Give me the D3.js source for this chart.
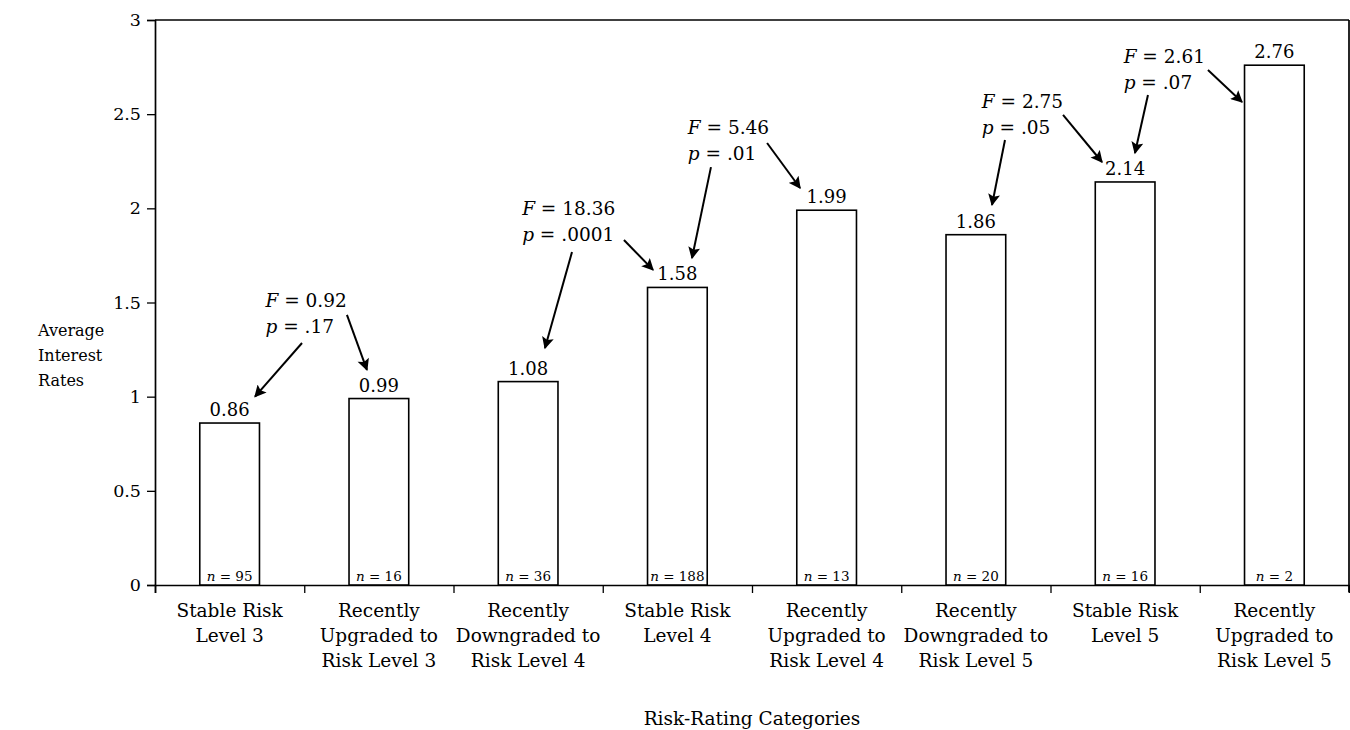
<!DOCTYPE html>
<html>
<head>
<meta charset="utf-8">
<script src="https://cdn.jsdelivr.net/npm/d3@7"></script>
<style>
  body { margin: 0; background: #fff; }
  text { font-family: "DejaVu Serif", "Liberation Serif", serif; fill: #000; }
</style>
</head>
<body>
<div id="chart"></div>
<script>
var categories = [
  ["Stable Risk", "Level 3"],
  ["Recently", "Upgraded to", "Risk Level 3"],
  ["Recently", "Downgraded to", "Risk Level 4"],
  ["Stable Risk", "Level 4"],
  ["Recently", "Upgraded to", "Risk Level 4"],
  ["Recently", "Downgraded to", "Risk Level 5"],
  ["Stable Risk", "Level 5"],
  ["Recently", "Upgraded to", "Risk Level 5"]
];
var rates = [0.86, 0.99, 1.08, 1.58, 1.99, 1.86, 2.14, 2.76];
var counts = [95, 16, 36, 188, 13, 20, 16, 2];
var yTicks = [0, 0.5, 1, 1.5, 2, 2.5, 3];

// F-test annotations: text anchor and arrows in (category index, rate) units
var annF = ["0.92", "18.36", "5.46", "2.75", "2.61"];
var annP = [".17", ".0001", ".01", ".05", ".07"];
var annPos = [[0.74, 1.476], [2.46, 1.965], [3.57, 2.395], [5.54, 2.533], [6.49, 2.772]];
var annArrows = [
  [[0.985, 1.285, 0.67, 1.0], [1.286, 1.434, 1.42, 1.142]],
  [[2.794, 1.768, 2.613, 1.258], [3.142, 1.832, 3.337, 1.673]],
  [[3.725, 2.219, 3.598, 1.736], [4.101, 2.347, 4.322, 2.108]],
  [[5.695, 2.363, 5.608, 2.018], [6.084, 2.496, 6.345, 2.246]],
  [[6.653, 2.602, 6.566, 2.294], [7.055, 2.735, 7.283, 2.565]]
];

var margin = {top: 20, right: 1, bottom: 145, left: 155};
var width = 1350 - margin.left - margin.right;
var height = 730 - margin.top - margin.bottom;

var svg = d3.select("#chart")
  .append("svg")
    .attr("width", 1350)
    .attr("height", 730)
  .append("g")
    .attr("transform", "translate(" + margin.left + "," + margin.top + ")");

svg.append("defs").append("marker")
    .attr("id", "head")
    .attr("viewBox", "0 0 10 10")
    .attr("refX", 9).attr("refY", 5)
    .attr("markerWidth", 7).attr("markerHeight", 6)
    .attr("markerUnits", "strokeWidth")
    .attr("orient", "auto")
  .append("path")
    .attr("d", "M0,0 L10,5 L0,10 L2,5 Z")
    .attr("fill", "#000");

var idx = d3.range(categories.length);

var x = d3.scaleBand()
  .domain(idx)
  .range([0, width])
  .paddingInner(0.6)
  .paddingOuter(0.3);

var xi = d3.scaleLinear()
  .domain([0, categories.length])
  .range([0, width]);

var y = d3.scaleLinear()
  .domain([0, 3])
  .range([height, 0]);

// frame top and right
svg.append("line")
  .attr("x1", 0).attr("x2", width).attr("y1", 0).attr("y2", 0)
  .attr("stroke", "#000").attr("stroke-width", 1.7);
svg.append("line")
  .attr("x1", width).attr("x2", width).attr("y1", 0).attr("y2", height + 7)
  .attr("stroke", "#000").attr("stroke-width", 1.7);

// y axis
var yAxis = svg.append("g")
  .call(d3.axisLeft(y).tickValues(yTicks).tickSize(8).tickPadding(6)
    .tickFormat(function(d) { return d; }));
yAxis.select(".domain").attr("stroke", "#000").attr("stroke-width", 1.7);
yAxis.selectAll(".tick line").attr("stroke", "#000").attr("stroke-width", 1.3);
yAxis.selectAll(".tick text")
  .style("font-family", "'DejaVu Serif', serif")
  .style("font-size", "17.5px").attr("fill", "#000");

// x axis: boundary ticks
var xAxis = svg.append("g")
  .attr("transform", "translate(0," + height + ")")
  .call(d3.axisBottom(xi).tickValues(d3.range(categories.length + 1)).tickSize(8)
    .tickFormat(""));
xAxis.select(".domain").attr("stroke", "#000").attr("stroke-width", 1.7);
xAxis.selectAll(".tick line").attr("stroke", "#000").attr("stroke-width", 1.3);

// category labels
var catG = svg.append("g").selectAll("text")
  .data(categories)
  .enter().append("text")
    .attr("text-anchor", "middle")
    .attr("font-size", "18.5px")
    .attr("y", height + 32);
catG.selectAll("tspan")
  .data(function(d, i) { return d.map(function(s) { return {s: s, i: i}; }); })
  .enter().append("tspan")
    .attr("x", function(d) { return x(d.i) + x.bandwidth() / 2; })
    .attr("dy", function(d, j) { return j === 0 ? 0 : 25; })
    .text(function(d) { return d.s; });

// bars
svg.selectAll(".bar")
  .data(rates)
  .enter().append("rect")
    .attr("class", "bar")
    .attr("x", function(d, i) { return x(i); })
    .attr("y", function(d) { return y(d); })
    .attr("width", x.bandwidth())
    .attr("height", function(d) { return height - y(d); })
    .attr("fill", "#fff")
    .attr("stroke", "#000")
    .attr("stroke-width", 1.6);

// value labels
svg.selectAll(".val")
  .data(rates)
  .enter().append("text")
    .attr("class", "val")
    .attr("text-anchor", "middle")
    .attr("font-size", "18px")
    .attr("x", function(d, i) { return x(i) + x.bandwidth() / 2; })
    .attr("y", function(d) { return y(d) - 7; })
    .text(function(d) { return d.toFixed(2); });

// n labels
var nT = svg.selectAll(".nl")
  .data(counts)
  .enter().append("text")
    .attr("class", "nl")
    .attr("text-anchor", "middle")
    .attr("font-size", "13.5px")
    .attr("x", function(d, i) { return x(i) + x.bandwidth() / 2; })
    .attr("y", height - 4);
nT.append("tspan").attr("font-style", "italic").text("n");
nT.append("tspan").text(function(d) { return " = " + d; });

// y title
svg.append("text")
  .attr("font-size", "16px")
  .attr("transform", "translate(" + (38 - margin.left) + "," + y(1.32) + ")")
  .selectAll("tspan")
  .data(["Average", "Interest", "Rates"])
  .enter().append("tspan")
    .attr("x", 0)
    .attr("dy", function(d, i) { return i === 0 ? 0 : 25; })
    .text(function(d) { return d; });

// x title
svg.append("text")
  .attr("text-anchor", "middle")
  .attr("font-size", "18.5px")
  .attr("x", width / 2)
  .attr("y", height + 140)
  .text("Risk-Rating Categories");

// annotations
annF.forEach(function(f, k) {
  var g = svg.append("g");
  var px = xi(annPos[k][0]), py = y(annPos[k][1]);
  var t1 = g.append("text").attr("x", px).attr("y", py).attr("font-size", "18.5px");
  t1.append("tspan").attr("font-style", "italic").text("F");
  t1.append("tspan").text(" = " + f);
  var t2 = g.append("text").attr("x", px).attr("y", py + 26).attr("font-size", "18.5px");
  t2.append("tspan").attr("font-style", "italic").text("p");
  t2.append("tspan").text(" = " + annP[k]);
  annArrows[k].forEach(function(a) {
    g.append("line")
      .attr("x1", xi(a[0])).attr("y1", y(a[1]))
      .attr("x2", xi(a[2])).attr("y2", y(a[3]))
      .attr("stroke", "#000")
      .attr("stroke-width", 2)
      .attr("marker-end", "url(#head)");
  });
});
</script>
</body>
</html>
